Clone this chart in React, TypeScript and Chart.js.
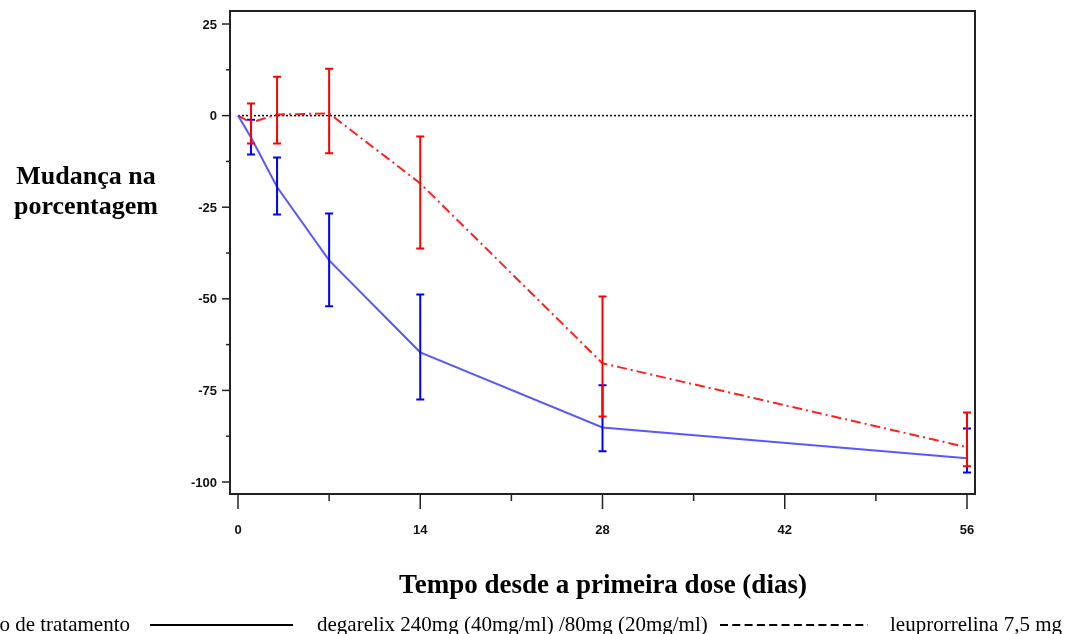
import React, { useEffect, useRef } from "react";
import { Chart, registerables } from "chart.js";

Chart.register(...registerables);

// ---- data ----
const days = [0, 1, 3, 7, 14, 28, 56];
const degarelixMean = [0, -6, -19.5, -39.5, -64.6, -85.1, -93.5];
const degarelixLow = [null, -10.6, -27, -52, -77.5, -91.6, -97.4];
const degarelixHigh = [null, -1.1, -11.4, -26.7, -48.8, -73.6, -85.4];
const leuproMean = [0, -1.9, 0.3, 0.6, -18.5, -67.6, -90.5];
const leuproLow = [null, -7.6, -7.6, -10.3, -36.3, -82.1, -95.7];
const leuproHigh = [null, 3.3, 10.6, 12.8, -5.7, -49.4, -81];

const xMajorTicks = [0, 14, 28, 42, 56];
const xMinorTicks = [7, 21, 35, 49];
const yMajorTicks = [25, 0, -25, -50, -75, -100];
const yMinorTicks = [12.5, -12.5, -37.5, -62.5, -87.5];

const yTitleLines = ["Mudança na", "porcentagem"];
const xTitle = "Tempo desde a primeira dose (dias)";
const legendTitle = "Grupo de tratamento";
const legendDegarelix = "degarelix 240mg (40mg/ml) /80mg (20mg/ml)";
const legendLeupro = "leuprorrelina 7,5 mg";

const BLUE_LINE = "rgba(70,70,255,0.9)";
const BLUE_BAR = "#0000ff";
const RED_LINE = "#ff2020";
const RED_BAR = "#ff0000";

const sasPlugin = {
  id: "sasAxes",
  beforeDatasetsDraw(chart: any) {
    const { ctx, scales } = chart;
    const xs = scales.x;
    const ys = scales.y;
    ctx.save();
    ctx.strokeStyle = "#000";
    ctx.lineWidth = 1.5;
    ctx.setLineDash([2, 2]);
    const y0 = ys.getPixelForValue(0);
    ctx.beginPath();
    ctx.moveTo(xs.getPixelForValue(0), y0);
    ctx.lineTo(chart.chartArea.right, y0);
    ctx.stroke();
    ctx.restore();
  },
  afterDatasetsDraw(chart: any) {
    const { ctx, scales, chartArea } = chart;
    const xs = scales.x;
    const ys = scales.y;
    ctx.save();
    ctx.setLineDash([]);

    const drawBars = (low: (number | null)[], high: (number | null)[], color: string) => {
      ctx.strokeStyle = color;
      ctx.lineWidth = 2;
      for (let i = 0; i < days.length; i++) {
        const lo = low[i];
        const hi = high[i];
        if (lo === null || hi === null) continue;
        const px = xs.getPixelForValue(days[i]);
        const pl = ys.getPixelForValue(lo);
        const ph = ys.getPixelForValue(hi);
        ctx.beginPath();
        ctx.moveTo(px, pl);
        ctx.lineTo(px, ph);
        ctx.moveTo(px - 4, pl);
        ctx.lineTo(px + 4, pl);
        ctx.moveTo(px - 4, ph);
        ctx.lineTo(px + 4, ph);
        ctx.stroke();
      }
    };
    drawBars(degarelixLow, degarelixHigh, BLUE_BAR);
    drawBars(leuproLow, leuproHigh, RED_BAR);

    // frame
    ctx.strokeStyle = "#222";
    ctx.lineWidth = 2;
    ctx.strokeRect(chartArea.left, chartArea.top, chartArea.right - chartArea.left, chartArea.bottom - chartArea.top);

    // y ticks
    ctx.lineWidth = 1.5;
    ctx.strokeStyle = "#222";
    ctx.fillStyle = "#111";
    ctx.font = "bold 13px 'Liberation Sans', Arial, sans-serif";
    ctx.textAlign = "right";
    ctx.textBaseline = "middle";
    yMajorTicks.forEach((v) => {
      const py = ys.getPixelForValue(v);
      ctx.beginPath();
      ctx.moveTo(chartArea.left - 8, py);
      ctx.lineTo(chartArea.left, py);
      ctx.stroke();
      ctx.fillText(String(v), chartArea.left - 13, py + 1);
    });
    yMinorTicks.forEach((v) => {
      const py = ys.getPixelForValue(v);
      ctx.beginPath();
      ctx.moveTo(chartArea.left - 4, py);
      ctx.lineTo(chartArea.left, py);
      ctx.stroke();
    });

    // x ticks
    ctx.textAlign = "center";
    xMajorTicks.forEach((v) => {
      const px = xs.getPixelForValue(v);
      ctx.beginPath();
      ctx.moveTo(px, chartArea.bottom);
      ctx.lineTo(px, chartArea.bottom + 15);
      ctx.stroke();
      ctx.fillText(String(v), px, chartArea.bottom + 36);
    });
    xMinorTicks.forEach((v) => {
      const px = xs.getPixelForValue(v);
      ctx.beginPath();
      ctx.moveTo(px, chartArea.bottom);
      ctx.lineTo(px, chartArea.bottom + 7);
      ctx.stroke();
    });

    // y title
    ctx.fillStyle = "#000";
    ctx.font = "bold 26px 'Liberation Serif', 'Times New Roman', serif";
    ctx.textAlign = "center";
    ctx.textBaseline = "alphabetic";
    ctx.fillText(yTitleLines[0], 86, 184);
    ctx.fillText(yTitleLines[1], 86, 214);

    // x title
    ctx.font = "bold 27px 'Liberation Serif', 'Times New Roman', serif";
    ctx.fillText(xTitle, 603, 593);

    // legend
    ctx.font = "21px 'Liberation Serif', 'Times New Roman', serif";
    ctx.textAlign = "right";
    ctx.fillText(legendTitle, 130, 631);
    ctx.textAlign = "left";
    ctx.fillText(legendDegarelix, 317, 631);
    ctx.fillText(legendLeupro, 890, 631);
    ctx.strokeStyle = "#000";
    ctx.lineWidth = 2;
    ctx.beginPath();
    ctx.moveTo(150, 625);
    ctx.lineTo(293, 625);
    ctx.stroke();
    ctx.setLineDash([8, 4.3]);
    ctx.beginPath();
    ctx.moveTo(720, 625);
    ctx.lineTo(868, 625);
    ctx.stroke();
    ctx.restore();
  },
};

export default function App() {
  const canvasRef = useRef<HTMLCanvasElement | null>(null);

  useEffect(() => {
    const canvas = canvasRef.current;
    if (!canvas) return;
    const chart = new Chart(canvas, {
      type: "line",
      data: {
        datasets: [
          {
            label: legendDegarelix,
            data: days.map((d, i) => ({ x: d, y: degarelixMean[i] })),
            borderColor: BLUE_LINE,
            borderWidth: 2,
            pointRadius: 0,
            tension: 0,
          },
          {
            label: legendLeupro,
            data: days.map((d, i) => ({ x: d, y: leuproMean[i] })),
            borderColor: RED_LINE,
            borderWidth: 2,
            borderDash: [10, 4, 2, 4],
            pointRadius: 0,
            tension: 0,
          },
        ],
      },
      options: {
        responsive: false,
        animation: false,
        devicePixelRatio: 1,
        layout: { padding: { left: 230, top: 11, right: 92, bottom: 140 } },
        plugins: { legend: { display: false }, title: { display: false }, tooltip: { enabled: false } },
        scales: {
          x: { type: "linear", min: -0.615, max: 56.615, display: false },
          y: { type: "linear", min: -103.27, max: 28.55, display: false },
        },
      },
      plugins: [sasPlugin],
    });
    return () => chart.destroy();
  }, []);

  return (
    <div style={{ position: "fixed", left: 0, top: 0, width: 1067, height: 634, background: "#fff" }}>
      <canvas ref={canvasRef} width={1067} height={634} style={{ display: "block" }} />
    </div>
  );
}
